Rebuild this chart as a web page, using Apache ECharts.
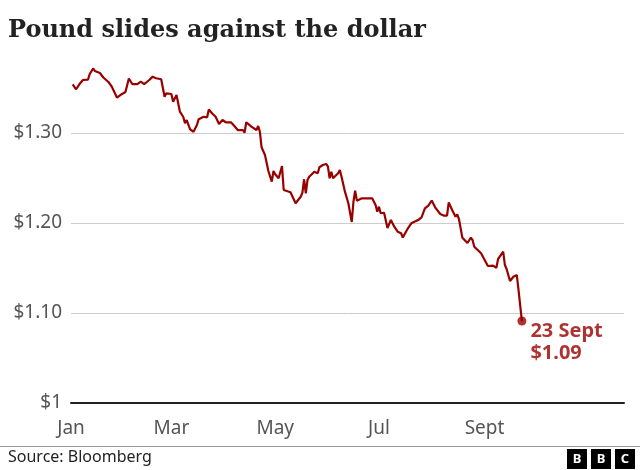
<!DOCTYPE html>
<html><head><meta charset="utf-8">
<script src="https://cdn.jsdelivr.net/npm/echarts@6/dist/echarts.min.js"></script>
<style>html,body{margin:0;padding:0;background:#fff}#c{width:640px;height:470px}</style>
</head><body><div id="c"></div>
<script>
// GBP/USD, 2022
const dates = ['01-02','01-04','01-06','01-07','01-08','01-09','01-11','01-12','01-14','01-15','01-18','01-20','01-21','01-23','01-25','01-26','01-28','01-30',
'02-02','02-04','02-06','02-09','02-11','02-13','02-14','02-16','02-18','02-20','02-23','02-25','02-26',
'03-01','03-02','03-04','03-05','03-06','03-08','03-09','03-10','03-12','03-14','03-16','03-17','03-20','03-22','03-23','03-25','03-27','03-29','03-31',
'04-02','04-05','04-07','04-09','04-12','04-13','04-14','04-17','04-20','04-21','04-22','04-23','04-25','04-27','04-29','04-30',
'05-01','05-03','05-05','05-06','05-10','05-13','05-16','05-17','05-18','05-19','05-20','05-21','05-24','05-26','05-27','05-29','05-31',
'06-01','06-02','06-03','06-04','06-07','06-08','06-09','06-11','06-13','06-15','06-16','06-17','06-18','06-21','06-25','06-27','06-29','06-30',
'07-01','07-02','07-04','07-06','07-08','07-10','07-12','07-14','07-15','07-18','07-20','07-21','07-24','07-26','07-28','07-30',
'08-01','08-03','08-04','08-06','08-08','08-10','08-11','08-13','08-15','08-16','08-17','08-19','08-22','08-24','08-25','08-26','08-30',
'09-03','09-06','09-08','09-09','09-12','09-13','09-14','09-16','09-18','09-20','09-21','09-22','09-23'];
const values = [1.3541,1.3486,1.3544,1.3522,1.3589,1.3581,1.3594,1.3656,1.3717,1.3689,1.3667,1.3617,1.3617,1.3567,1.3514,1.3497,1.3394,1.3422,
1.3456,1.3606,1.3544,1.3544,1.3570,1.3544,1.3544,1.3589,1.3626,1.3608,1.3597,1.3403,1.3441,
1.3433,1.3348,1.3422,1.3330,1.3237,1.3178,1.3108,1.3144,1.3041,1.3014,1.3089,1.3152,1.3181,1.3174,1.3261,1.3217,1.3181,1.3100,1.3144,
1.3119,1.3119,1.3078,1.3033,1.3033,1.3003,1.3119,1.3070,1.3033,1.3078,1.3014,1.2841,1.2756,1.2578,1.2459,1.2578,
1.2541,1.2497,1.2633,1.2367,1.2341,1.2219,1.2292,1.2337,1.2486,1.2330,1.2478,1.2514,1.2570,1.2552,1.2619,1.2644,1.2656,
1.2626,1.2497,1.2570,1.2497,1.2552,1.2589,1.2514,1.2348,1.2219,1.2011,1.2237,1.2359,1.2248,1.2274,1.2274,1.2274,1.2200,1.2126,
1.2181,1.2108,1.2114,1.1944,1.2033,1.1959,1.1903,1.1886,1.1839,1.1941,1.1997,1.1997,1.2033,1.2063,1.2163,1.2194,
1.2250,1.2174,1.2174,1.2100,1.2083,1.2081,1.2228,1.2144,1.2070,1.2097,1.2044,1.1837,1.1778,1.1837,1.1811,1.1737,1.1663,
1.1522,1.1526,1.1503,1.1600,1.1681,1.1533,1.1489,1.1356,1.1403,1.1422,1.1256,1.1256,1.0911];
const xTickDates = ['01-01','03-01','05-01','07-01','09-01'];
const xTickLabels = ['Jan','Mar','May','Jul','Sept'];
const lastLabel = ['23 Sept', '$1.09'];

const YEAR = 2022;
const dayOf = s => { const [m, d] = s.split('-').map(Number); return (Date.UTC(YEAR, m - 1, d) - Date.UTC(YEAR, 0, 1)) / 86400000; };
const seriesData = dates.map((d, i) => [dayOf(d), values[i]]);
const tickDays = xTickDates.map(dayOf);
const lastPoint = seriesData[seriesData.length - 1];
const RED = '#990000';
const FONT = 'Noto Sans';

const chart = echarts.init(document.getElementById('c'), null, {renderer: 'canvas'});
chart.setOption({
  animation: false,
  backgroundColor: '#fff',
  title: {
    text: 'Pound slides against the dollar', left: 8, top: 19, padding: 0,
    textStyle: {fontFamily: 'DejaVu Serif', fontWeight: 'bold', fontSize: 24, color: '#222'}
  },
  grid: {left: 71, right: 16, top: 43, bottom: 67},
  xAxis: {
    type: 'value', min: 0, max: 325,
    axisLine: {show: true, onZero: false, lineStyle: {color: '#222', width: 2}},
    axisTick: {show: false},
    splitLine: {show: false},
    axisLabel: {
      customValues: tickDays,
      formatter: v => xTickLabels[tickDays.indexOf(v)] || '',
      color: '#555', fontFamily: FONT, fontSize: 19, margin: 16
    }
  },
  yAxis: {
    type: 'value', min: 1, max: 1.4, interval: 0.1,
    axisLine: {show: false}, axisTick: {show: false},
    splitLine: {show: true, showMaxLine: false, lineStyle: {color: '#cccccc', width: 1}},
    axisLabel: {
      showMaxLabel: false,
      formatter: v => (Math.abs(v - 1) < 1e-9 ? '$1' : '$' + v.toFixed(2)),
      color: '#555', fontFamily: FONT, fontSize: 19, margin: 9
    }
  },
  series: [
    {type: 'line', data: seriesData, showSymbol: false, lineStyle: {color: RED, width: 2.2}, z: 3},
    {type: 'scatter', data: [lastPoint], symbolSize: 9, itemStyle: {color: RED}, z: 4,
      label: {show: true, position: [13, 4], align: 'left', verticalAlign: 'top',
        formatter: lastLabel.join('\n'), color: RED, fontFamily: FONT, fontWeight: 'bold', fontSize: 20, lineHeight: 22}}
  ],
  graphic: [
    {type: 'line', shape: {x1: 0, y1: 446.5, x2: 640, y2: 446.5}, style: {stroke: '#999', lineWidth: 1}},
    {type: 'text', left: 8, top: 449, style: {text: 'Source: Bloomberg', fill: '#222', font: '16px "Noto Sans"'}},
    {type: 'group', left: 567, top: 449, children: [0, 1, 2].map(i => ({
      type: 'group', x: i * 24, children: [
        {type: 'rect', shape: {x: 0, y: 0, width: 20, height: 20}, style: {fill: '#000'}},
        {type: 'text', x: 10, y: 10.5, style: {text: ['B', 'B', 'C'][i], fill: '#fff', font: 'bold 13px "Noto Sans"', align: 'center', verticalAlign: 'middle'}}
      ]}))}
  ]
});
</script></body></html>
